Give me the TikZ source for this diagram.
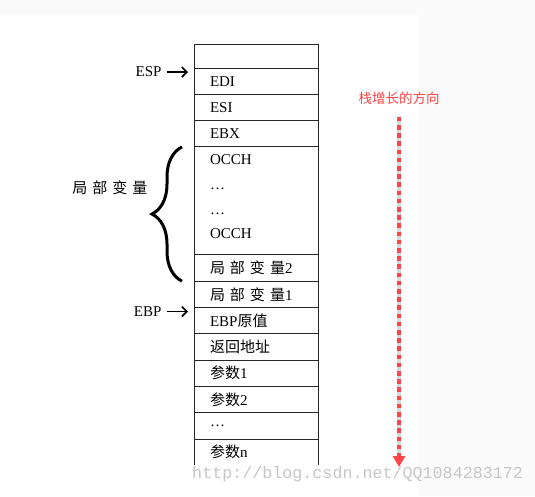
\documentclass[tikz,border=0pt]{standalone}
\usepackage{fontspec}
\setmainfont{Liberation Serif}
\newfontfamily\cjk{Noto Sans CJK SC}
\newfontfamily\wmfont{Liberation Mono}
\usepackage{xcolor}
\usetikzlibrary{positioning,arrows.meta,decorations.pathreplacing}
\definecolor{dirred}{HTML}{FF4545}
\newcommand{\cgap}{\hspace{5pt}}

\begin{document}
\begin{tikzpicture}[node distance=0pt, >={Straight Barb[length=5pt,width=10pt]}, every node/.style={font=\fontsize{15}{18}\selectfont}]
  \tikzstyle{cell}=[minimum width=124pt, minimum height=26.3pt, inner xsep=16pt, inner ysep=0pt, text width=92pt, align=left, outer sep=0pt]
  \tikzstyle{ptr}=[->, line width=1.6pt, shorten <=1.5pt, shorten >=6pt]
  \tikzstyle{rule}=[line width=1pt, black!85]
  \useasboundingbox (0,0) rectangle (535pt,-496pt);
  \fill[black!2] (0,0) rectangle (535pt,-496pt);
  \fill[white] (0,-15pt) rectangle (418pt,-496pt);

  % stack cells
  \node[cell, anchor=north west, minimum height=24pt] (top) at (194pt,-44pt) {};
  \node[cell, below=of top] (edi) {EDI};
  \node[cell, below=of edi] (esi) {ESI};
  \node[cell, below=of esi] (ebx) {EBX};
  \node[cell, below=of ebx, minimum height=108pt, text depth=82pt, font=\fontsize{15}{24.7}\selectfont] (occh) {OCCH\\ \ldots\\ \ldots\\ OCCH};
  \node[cell, below=of occh] (lv2) {{\cjk 局\cgap 部\cgap 变\cgap 量}2};
  \node[cell, below=of lv2] (lv1) {{\cjk 局\cgap 部\cgap 变\cgap 量}1};
  \node[cell, below=of lv1] (old) {EBP{\cjk 原值}};
  \node[cell, below=of old] (ret) {{\cjk 返回地址}};
  \node[cell, below=of ret] (arg1) {{\cjk 参数}1};
  \node[cell, below=of arg1] (arg2) {{\cjk 参数}2};
  \node[cell, below=of arg2] (dots) {\ldots};
  \node[cell, below=of dots] (argn) {{\cjk 参数}n};

  \foreach \c in {top,edi,esi,ebx,occh,lv2,lv1,old,ret,arg1,arg2,dots,argn}
    \draw[rule] (\c.north west) -- (\c.north east);
  \draw[rule] (top.north west) -- (argn.south west);
  \draw[rule] (top.north east) -- (argn.south east);

  % pointers
  \node[left=29pt of top.south west, yshift=-4pt] (esp) {ESP};
  \node[left=29pt of lv1.south west, yshift=-4pt] (ebp) {EBP};
  \draw[ptr] (esp) -- (esp -| top.west);
  \draw[ptr] (ebp) -- (ebp -| lv1.west);

  % locals brace
  \draw[decorate, decoration={brace, amplitude=30pt}, line width=3pt] ([xshift=-12pt]lv2.south west) -- ([xshift=-12pt]occh.north west);
  \node[left=43pt of occh.west, yshift=13pt] (locals) {{\cjk 局\cgap 部\cgap 变\cgap 量}};

  % growth direction
  \node[text=dirred, font=\cjk\fontsize{13.5}{16}\selectfont] (dir) at (399pt,-98pt) {栈增长的方向};
  \coordinate (grow) at (399pt,-467pt);
  \draw[line width=4.5pt, black!15, shorten <=9pt, shorten >=10pt] (dir.south) -- (grow);
  \draw[dirred, line width=3.5pt, dash pattern=on 4.5pt off 3.7pt, shorten <=9pt, -{Triangle[length=11pt,width=12pt]}] (dir.south) -- (grow);

  \node[anchor=west, text=black!22, font=\wmfont\fontsize{16.7}{18}\selectfont] (mark) at (188.7pt,-474pt) {http://blog.csdn.net/QQ1084283172};
\end{tikzpicture}
\end{document}
